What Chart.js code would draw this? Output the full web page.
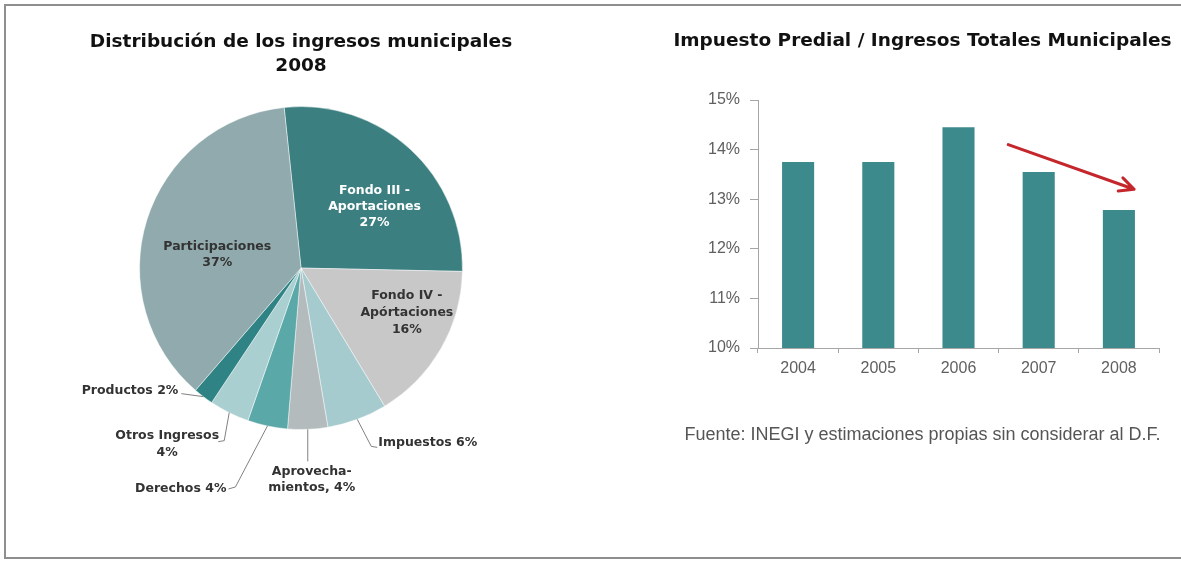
<!DOCTYPE html>
<html><head><meta charset="utf-8">
<script src="https://cdn.jsdelivr.net/npm/chart.js@4"></script>
<style>
html,body{margin:0;padding:0;background:#fff;width:1181px;height:561px;overflow:hidden;}
#frame{position:absolute;left:4px;top:4px;width:1200px;height:551px;border:2px solid #8e8e8e;border-right:none;}
#pieWrap{position:absolute;left:0;top:0;width:602px;height:540px;}
#barWrap{position:absolute;left:664px;top:0;width:517px;height:460px;}
</style></head><body>
<div id="frame"></div>
<div id="pieWrap"><canvas id="pie"></canvas></div>
<div id="barWrap"><canvas id="bar"></canvas></div>
<script>
// ---------- data ----------
const pieTitle = ['Distribución de los ingresos municipales', '2008'];
const pieCategories = ['Fondo III - Aportaciones', 'Fondo IV - Apórtaciones', 'Impuestos', 'Aprovechamientos', 'Derechos', 'Otros Ingresos', 'Productos', 'Participaciones'];
const pieValues = [27, 16, 6, 4, 4, 4, 2, 37];
const pieLabelLines = [
  ['Fondo III -', 'Aportaciones', '27%'],
  ['Fondo IV -', 'Apórtaciones', '16%'],
  ['Impuestos 6%'],
  ['Aprovecha-', 'mientos, 4%'],
  ['Derechos 4%'],
  ['Otros Ingresos', '4%'],
  ['Productos 2%'],
  ['Participaciones', '37%']
];

const barTitle = 'Impuesto Predial / Ingresos Totales Municipales';
const barYears = ['2004', '2005', '2006', '2007', '2008'];
const barValues = [13.75, 13.75, 14.45, 13.55, 12.78];
const yTicks = [10, 11, 12, 13, 14, 15];
const sourceNote = 'Fuente: INEGI y estimaciones propias sin considerar al D.F.';
const trendArrowFrom = [2.62, 14.1];
const trendArrowTo = [4.19, 13.2];

// ---------- styles ----------
const pieColors = ['#3c7f81', '#c8c8c8', '#a6cbce', '#b4bbbd', '#5ba8a9', '#aacfd1', '#2f8384', '#90aaad'];
// r: fraction of radius for anchor; dx,dy: text offset; leader: polyline offsets from anchor
const pieLabelLayout = [
  {r: 0.6, dx: 8, dy: 10, block: true, align: 'center', color: '#ffffff', lh: 16},
  {r: 0.75, dx: 1, dy: -16, block: true, align: 'center', color: '#333333', lh: 17},
  {r: 1.0, dx: 21, dy: 23, align: 'left', color: '#333333', lh: 16, leader: [[14, 27], [20, 28]]},
  {r: 1.0, dx: 4, dy: 42, align: 'center', color: '#333333', lh: 16, leader: [[0, 32]]},
  {r: 1.0, dx: -41, dy: 63, align: 'right', color: '#333333', lh: 16, leader: [[-32, 61], [-39, 63]]},
  {r: 1.0, dx: -62, dy: 23, align: 'center', color: '#333333', lh: 17, leader: [[-5, 28], [-11, 29]]},
  {r: 1.0, dx: -25, dy: -6, align: 'right', color: '#333333', lh: 16, leader: [[-22, -3]]},
  {r: 0.55, dx: 1, dy: 13, block: true, align: 'center', color: '#333333', lh: 16}
];

Chart.defaults.animation = false;
Chart.defaults.events = [];

const pieLabelPlugin = {
  id: 'pieLabels',
  afterDatasetsDraw(chart) {
    const ctx = chart.ctx;
    const meta = chart.getDatasetMeta(0);
    meta.data.forEach((arc, i) => {
      const st = pieLabelLayout[i];
      const p = arc.getProps(['x', 'y', 'startAngle', 'endAngle', 'outerRadius'], true);
      const mid = (p.startAngle + p.endAngle) / 2;
      const r = p.outerRadius * st.r;
      const ax = p.x + Math.cos(mid) * r, ay = p.y + Math.sin(mid) * r;
      ctx.save();
      if (st.leader) {
        ctx.beginPath();
        ctx.moveTo(ax, ay);
        st.leader.forEach(([dx, dy]) => ctx.lineTo(ax + dx, ay + dy));
        ctx.strokeStyle = '#808080';
        ctx.lineWidth = 1;
        ctx.stroke();
      }
      ctx.font = 'bold 12.5px "DejaVu Sans"';
      ctx.fillStyle = st.color;
      ctx.textAlign = st.align;
      ctx.textBaseline = 'middle';
      const lines = pieLabelLines[i];
      const y0 = ay + st.dy - (st.block ? (lines.length - 1) * st.lh / 2 : 0);
      lines.forEach((t, k) => ctx.fillText(t, ax + st.dx, y0 + k * st.lh));
      ctx.restore();
    });
  }
};

new Chart(document.getElementById('pie'), {
  type: 'pie',
  data: {
    labels: pieCategories,
    datasets: [{data: pieValues, backgroundColor: pieColors, borderColor: 'rgba(255,255,255,0.45)', borderWidth: 1, hoverOffset: 0, offset: 0}]
  },
  options: {
    responsive: true, maintainAspectRatio: false,
    rotation: -6,
    layout: {padding: {top: 0, left: 0, right: 0, bottom: 110}},
    plugins: {
      legend: {display: false},
      tooltip: {enabled: false},
      title: {display: true, text: pieTitle, color: '#111111',
        font: {family: '"DejaVu Sans"', size: 18.5, weight: 'bold', lineHeight: 1.3},
        padding: {top: 30, bottom: 28}}
    }
  },
  plugins: [pieLabelPlugin]
});

const arrowPlugin = {
  id: 'trendArrow',
  afterDatasetsDraw(chart) {
    const xs = chart.scales.x, ys = chart.scales.y, ctx = chart.ctx;
    const x1 = xs.getPixelForValue(trendArrowFrom[0]), y1 = ys.getPixelForValue(trendArrowFrom[1]);
    const x2 = xs.getPixelForValue(trendArrowTo[0]), y2 = ys.getPixelForValue(trendArrowTo[1]);
    const ang = Math.atan2(y2 - y1, x2 - x1);
    const L = 16, a = 0.45;
    ctx.save();
    ctx.strokeStyle = '#c4262c';
    ctx.lineWidth = 3;
    ctx.lineCap = 'round';
    ctx.lineJoin = 'round';
    ctx.beginPath();
    ctx.moveTo(x1, y1); ctx.lineTo(x2, y2);
    ctx.moveTo(x2 - L * Math.cos(ang - a), y2 - L * Math.sin(ang - a));
    ctx.lineTo(x2, y2);
    ctx.lineTo(x2 - L * Math.cos(ang + a), y2 - L * Math.sin(ang + a));
    ctx.stroke();
    ctx.restore();
  }
};

const axisGray = '#a6a6a6';
const tickFont = {family: '"Liberation Sans"', size: 16};

new Chart(document.getElementById('bar'), {
  type: 'bar',
  data: {
    labels: barYears,
    datasets: [{data: barValues, backgroundColor: '#3d8a8c', barPercentage: 0.4, categoryPercentage: 1.0}]
  },
  options: {
    responsive: true, maintainAspectRatio: false,
    layout: {padding: 0},
    scales: {
      x: {
        offset: true,
        grid: {display: true, offset: true, drawOnChartArea: false, drawTicks: true, tickLength: 5, color: axisGray},
        border: {display: true, color: axisGray, width: 1},
        ticks: {color: '#606060', font: tickFont, padding: 6},
        afterFit(s) { s.height = 40; }
      },
      y: {
        min: 10, max: 15,
        afterBuildTicks(s) { s.ticks = yTicks.map(v => ({value: v})); },
        grid: {display: true, drawOnChartArea: false, drawTicks: true, tickLength: 8, color: axisGray},
        border: {display: true, color: axisGray, width: 1},
        ticks: {color: '#606060', font: tickFont, padding: 10, callback: v => v + '%'},
        afterFit(s) { s.width = 94; }
      },
      yRight: {
        position: 'right', display: true,
        grid: {display: false}, border: {display: false}, ticks: {display: false},
        afterFit(s) { s.width = 22; }
      }
    },
    plugins: {
      legend: {display: false},
      tooltip: {enabled: false},
      title: {display: true, text: barTitle, color: '#111111',
        font: {family: '"DejaVu Sans"', size: 18.5, weight: 'bold', lineHeight: 1.2},
        padding: {top: 30, bottom: 47.8}},
      subtitle: {display: true, position: 'bottom', text: sourceNote, color: '#555555',
        font: {family: '"Liberation Sans"', size: 18, lineHeight: 1.2},
        padding: {top: 36, bottom: 14.4}}
    }
  },
  plugins: [arrowPlugin]
});
</script>
</body></html>
